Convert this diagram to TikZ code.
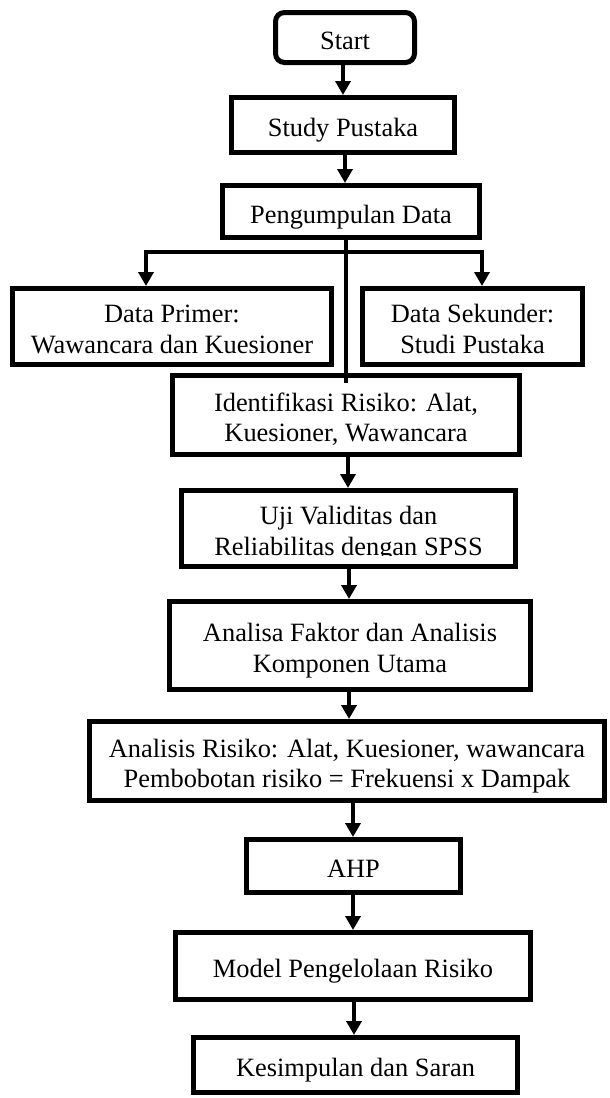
\documentclass[tikz,border=0pt]{standalone}
\usepackage{fontspec}
\setmainfont{Liberation Serif}
\usetikzlibrary{arrows.meta}
\newcommand\myTop{\rule{0pt}{29pt}}
\newcommand\myBot{\rule[-6pt]{0pt}{6pt}}
\begin{document}
\begin{tikzpicture}[x=1pt,y=-1pt,
  txt/.style={inner sep=0pt, align=center, font=\fontsize{26.4}{30.5}\selectfont},
  box/.style={txt, draw, line width=5pt},
  arr/.style={line width=4pt, -{Triangle[length=14pt,width=15pt]}},
  arrtwo/.style={line width=4pt, {Triangle[length=14pt,width=15pt]}-{Triangle[length=14pt,width=15pt]}},
  thru/.style={line width=3.6pt}]
\useasboundingbox (0,0) rectangle (610,1098);

\node[box, rounded corners=9pt, minimum width=139pt, minimum height=50pt] (start) at (345,37.5) {\myTop Start\myBot};
\node[box, minimum width=223pt, minimum height=55pt] (study) at (343,125) {\myTop Study Pustaka\myBot};
\node[box, minimum width=257pt, minimum height=52pt] (peng) at (351,211.5) {\myTop Pengumpulan Data\myBot};
\node[box, minimum width=319pt, minimum height=76pt] (prim) at (172,326.5) {\myTop Data Primer:\\ Wawancara dan Kuesioner\myBot};
\node[box, minimum width=220pt, minimum height=76pt] (sek) at (472.5,326.5) {\myTop Data Sekunder:\\ Studi Pustaka\myBot};
\node[box, minimum width=347pt, minimum height=79pt] (ident) at (346,415) {\myTop Identifikasi Risiko: Alat,\\ Kuesioner, Wawancara\myBot};
\node[box, minimum width=334pt, minimum height=76pt] (uji) at (348.5,528.5) {};
\begin{scope}
  \clip (179,488) rectangle (518,555.5);
  \node[txt] (ujitxt) at (uji.center) {\myTop Uji Validitas dan\\ Reliabilitas dengan SPSS\myBot};
\end{scope}
\node[box, minimum width=361pt, minimum height=88pt] (anal) at (350,645.5) {\myTop Analisa Faktor dan Analisis\\ Komponen Utama\myBot};
\node[box, minimum width=515pt, minimum height=79pt] (risk) at (347,761) {\myTop Analisis Risiko: Alat, Kuesioner, wawancara\\ Pembobotan risiko = Frekuensi x Dampak\myBot};
\node[box, minimum width=214pt, minimum height=53pt] (ahp) at (353.5,866) {\myTop AHP\myBot};
\node[box, minimum width=355pt, minimum height=67pt] (model) at (353,966) {\myTop Model Pengelolaan Risiko\myBot};
\node[box, minimum width=324pt, minimum height=55pt] (kes) at (355.5,1065) {\myTop Kesimpulan dan Saran\myBot};

\draw[arr] (start.south -| study.north) -- (study.north);
\draw[arr] ([xshift=2pt]study.south) -- ([xshift=2pt]study.south |- peng.north);
\coordinate (pout) at ([xshift=-5pt]peng.south);
\draw[thru] (pout) -- ([yshift=-10pt]pout |- ident.north);
\coordinate (bar) at ([yshift=-12pt]pout);
\coordinate (pa) at ([xshift=-26pt]prim.north);
\coordinate (sa) at ([xshift=9.5pt]sek.north);
\draw[arrtwo] (pa) -- (pa |- bar) -- (sa |- bar) -- (sa);
\draw[arr] ([xshift=2pt]ident.south) -- ([xshift=2pt]ident.south |- uji.north);
\draw[arr] ([xshift=0.5pt]uji.south) -- ([xshift=0.5pt]uji.south |- anal.north);
\draw[arr] ([xshift=-1pt]anal.south) -- ([xshift=-1pt]anal.south |- risk.north);
\draw[arr] ([xshift=6pt]risk.south) -- ([xshift=6pt]risk.south |- ahp.north);
\draw[arr] ([xshift=-0.5pt]ahp.south) -- ([xshift=-0.5pt]ahp.south |- model.north);
\draw[arr] ([xshift=1pt]model.south) -- ([xshift=1pt]model.south |- kes.north);
\end{tikzpicture}
\end{document}
